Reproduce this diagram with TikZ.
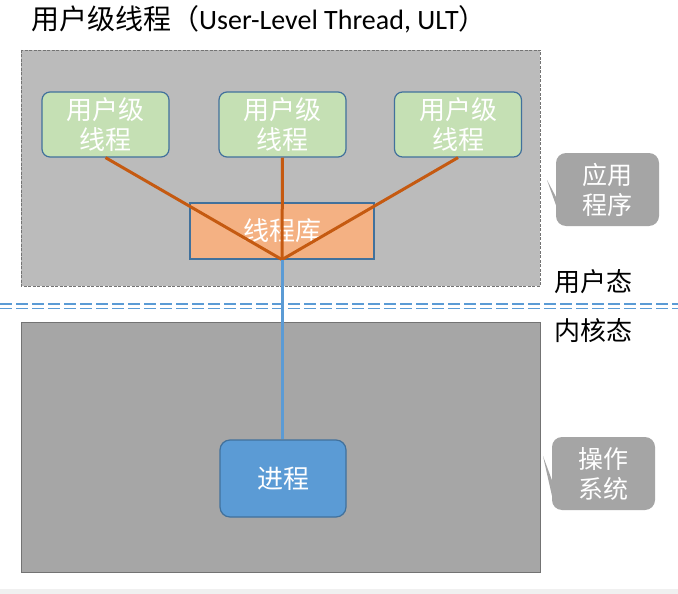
\documentclass[tikz,border=0pt]{standalone}
\usepackage{fontspec}
\setmainfont{Noto Sans CJK SC}
\newfontfamily\latinfont{Carlito}
\begin{document}
\begin{tikzpicture}[x=1pt,y=-1pt,
  thread/.style={draw=bordblue,line width=1.2pt,fill=threadgreen,rounded corners=8pt,
    minimum width=127pt,minimum height=65pt,text=white,font=\fontsize{26}{30}\selectfont,align=center,inner sep=0pt},
  libbox/.style={draw=bordblue,line width=1.2pt,fill=liborange,minimum width=184pt,minimum height=56pt,
    text=white,font=\fontsize{26}{30}\selectfont,inner sep=0pt},
  procbox/.style={draw=bordblue,line width=1.2pt,fill=procblue,rounded corners=10pt,minimum width=126pt,minimum height=77pt,
    text=white,font=\fontsize{26}{30}\selectfont,inner sep=0pt},
  callout/.style={fill=calgray,rounded corners=10pt,minimum width=103pt,minimum height=73pt,
    text=white,font=\fontsize{25}{30}\selectfont,align=center,inner sep=0pt},
  statelabel/.style={font=\fontsize{26}{28}\selectfont,inner sep=0pt,anchor=west},
  ultline/.style={draw=ultorange,line width=3pt},
  kline/.style={draw=procblue,line width=3pt}
]
\definecolor{bordblue}{HTML}{41719C}
\definecolor{threadgreen}{HTML}{C5E0B4}
\definecolor{liborange}{HTML}{F4B183}
\definecolor{procblue}{HTML}{5B9BD5}
\definecolor{calgray}{HTML}{A5A5A5}
\definecolor{ultorange}{HTML}{C55A11}
\definecolor{usergray}{HTML}{BBBBBB}
\definecolor{kerngray}{HTML}{A6A6A6}
\useasboundingbox (0,0) rectangle (678,594);
\fill[white] (0,0) rectangle (678,594);
\fill[black!6] (0,589) rectangle (678,594);
% title
\node[anchor=west,inner sep=0pt,font=\fontsize{28}{30}\selectfont] (title) at (31,19)
  {用户级线程（{\latinfont User-Level Thread, ULT}）};
% user space
\draw[fill=usergray,draw=black!55,dashed,dash pattern=on 3pt off 1.5pt,line width=0.8pt] (21,50) rectangle (540,286);
% kernel space
\draw[fill=kerngray,draw=black!55,line width=1pt] (21,322) rectangle (540,572);
% separator double dashed line
\draw[procblue,line width=1.8pt,dash pattern=on 12pt off 4pt] (0,304) -- (678,304);
\draw[procblue,line width=1.8pt,dash pattern=on 12pt off 4pt] (0,308.5) -- (678,308.5);
% threads
\node[thread] (t1) at (105.5,124.5) {用户级\\线程};
\node[thread] (t2) at (282.5,124.5) {用户级\\线程};
\node[thread] (t3) at (458,124.5) {用户级\\线程};
\node[libbox] (lib) at (282,231) {线程库};
\node[procbox] (proc) at (283,478.5) {进程};
% connectors
\draw[ultline] (t1.south) -- (lib.south);
\draw[ultline] (t2.south) -- (lib.south);
\draw[ultline] (t3.south) -- (lib.south);
\draw[kline] (lib.south) -- (proc.north -| lib.south);
% state labels
\node[statelabel] (ustate) at (554,282) {用户态};
\node[statelabel] (kstate) at (554,331) {内核态};
% callouts
\node[callout] (app) at (607.5,189.5) {应用\\程序};
\fill[calgray] ([yshift=-9pt]app.west) ++(1pt,0) -- (547,180) -- ([yshift=-18pt,xshift=1pt]app.west) -- cycle;
\node[callout] (os) at (603.5,473.5) {操作\\系统};
\fill[calgray] ([yshift=-26pt,xshift=1pt]os.west) -- (543,456) -- ([yshift=-9pt,xshift=1pt]os.west) -- cycle;
\end{tikzpicture}
\end{document}
